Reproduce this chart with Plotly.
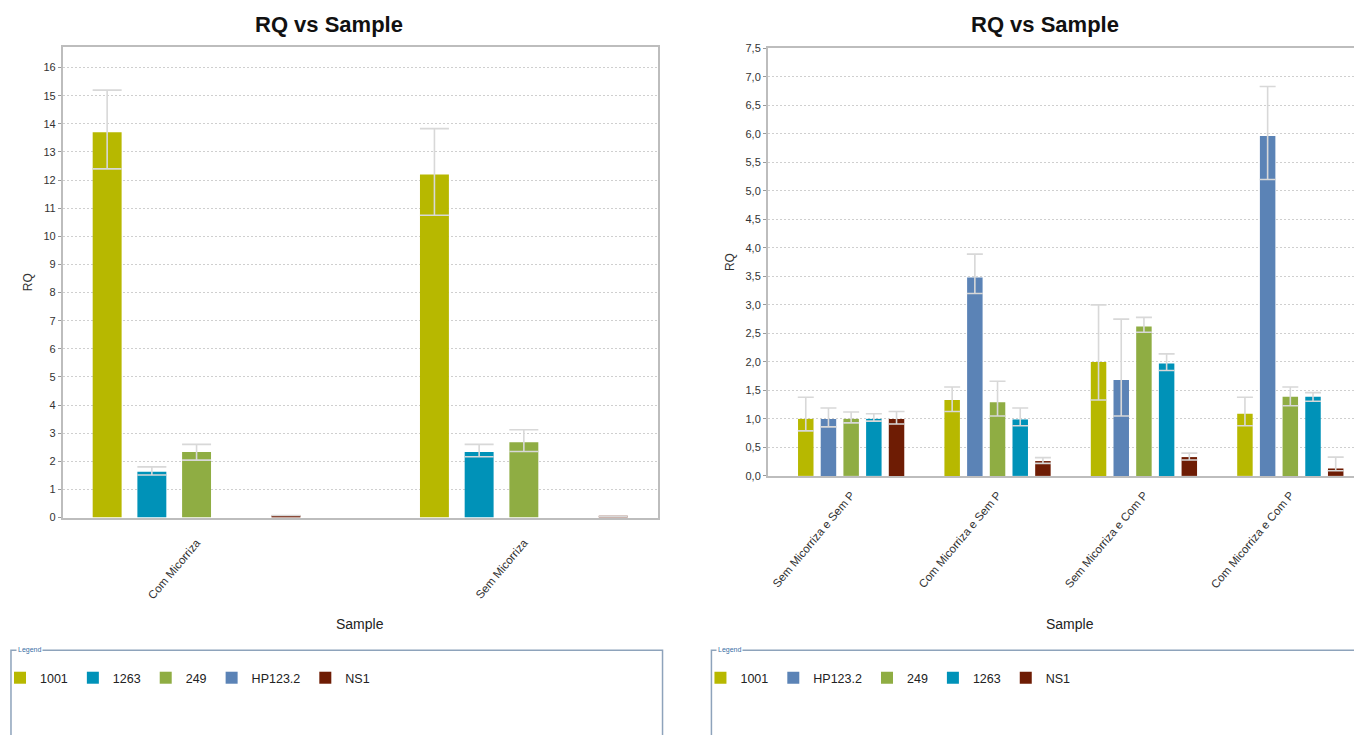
import plotly.graph_objects as go

# ---------------- data: RQ by sample (left chart) ----------------
samples_left = ["Com Micorriza", "Sem Micorriza"]
targets_left = ["1001", "1263", "249", "HP123.2", "NS1"]

rq_left_1001 = [13.70, 12.20]
rq_left_1263 = [1.63, 2.33]
rq_left_249 = [2.33, 2.68]
rq_left_hp1232 = [None, None]
rq_left_ns1 = [0.07, 0.03]

rq_max_left_1001 = [15.20, 13.83]
rq_min_left_1001 = [12.40, 10.75]
rq_max_left_1263 = [1.80, 2.60]
rq_min_left_1263 = [1.51, 2.16]
rq_max_left_249 = [2.60, 3.12]
rq_min_left_249 = [2.04, 2.35]
rq_max_left_hp1232 = [None, None]
rq_min_left_hp1232 = [None, None]
rq_max_left_ns1 = [0.07, 0.03]
rq_min_left_ns1 = [0.07, 0.03]

# ---------------- data: RQ by sample (right chart) ----------------
samples_right = ["Sem Micorriza e Sem P", "Com Micorriza e Sem P",
                 "Sem Micorriza e Com P", "Com Micorriza e Com P"]
targets_right = ["1001", "HP123.2", "249", "1263", "NS1"]

rq_right_1001 = [1.00, 1.33, 2.00, 1.09]
rq_right_hp1232 = [1.00, 3.48, 1.68, 5.96]
rq_right_249 = [1.00, 1.29, 2.62, 1.39]
rq_right_1263 = [1.00, 0.99, 1.97, 1.39]
rq_right_ns1 = [1.00, 0.26, 0.33, 0.13]

rq_max_right_1001 = [1.38, 1.56, 3.00, 1.38]
rq_min_right_1001 = [0.79, 1.13, 1.33, 0.88]
rq_max_right_hp1232 = [1.19, 3.89, 2.75, 6.83]
rq_min_right_hp1232 = [0.86, 3.20, 1.05, 5.20]
rq_max_right_249 = [1.12, 1.66, 2.78, 1.56]
rq_min_right_249 = [0.93, 1.05, 2.52, 1.23]
rq_max_right_1263 = [1.09, 1.19, 2.14, 1.46]
rq_min_right_1263 = [0.96, 0.88, 1.85, 1.31]
rq_max_right_ns1 = [1.13, 0.32, 0.40, 0.33]
rq_min_right_ns1 = [0.91, 0.22, 0.28, 0.09]

target_colors = {
    "1001": "#b7b800",
    "1263": "#0092b8",
    "249": "#8fad43",
    "HP123.2": "#5b83b6",
    "NS1": "#6e1c04",
}

# ---------------- page geometry (pixels) ----------------
W, H = 1354, 735
FONT = "Liberation Sans, Arial, sans-serif"


def px_x(v):
    return v / W


def px_y(v):
    return 1 - v / H


left_series = {
    "1001": (rq_left_1001, rq_max_left_1001, rq_min_left_1001),
    "1263": (rq_left_1263, rq_max_left_1263, rq_min_left_1263),
    "249": (rq_left_249, rq_max_left_249, rq_min_left_249),
    "HP123.2": (rq_left_hp1232, rq_max_left_hp1232, rq_min_left_hp1232),
    "NS1": (rq_left_ns1, rq_max_left_ns1, rq_min_left_ns1),
}
right_series = {
    "1001": (rq_right_1001, rq_max_right_1001, rq_min_right_1001),
    "HP123.2": (rq_right_hp1232, rq_max_right_hp1232, rq_min_right_hp1232),
    "249": (rq_right_249, rq_max_right_249, rq_min_right_249),
    "1263": (rq_right_1263, rq_max_right_1263, rq_min_right_1263),
    "NS1": (rq_right_ns1, rq_max_right_ns1, rq_min_right_ns1),
}


def error_parts(vals, hi, lo):
    plus, minus = [], []
    for v, h, l in zip(vals, hi, lo):
        if v is None or h is None or l is None:
            plus.append(0)
            minus.append(0)
        else:
            plus.append(round(h - v, 4))
            minus.append(round(v - l, 4))
    return plus, minus


fig = go.Figure()

# bar slots inside each category group (category units)
SLOT_L, BAR_L, CAP_L = 0.1366, 0.0884, 14.5
SLOT_R, BAR_R, CAP_R = 0.1550, 0.1057, 8

for i, name in enumerate(targets_left):
    vals, hi, lo = left_series[name]
    plus, minus = error_parts(vals, hi, lo)
    fig.add_trace(go.Bar(
        x=samples_left, y=vals, name=name,
        marker=dict(color=target_colors[name], line=dict(width=0)),
        width=BAR_L, offset=(i - 2) * SLOT_L - BAR_L / 2,
        error_y=dict(type="data", symmetric=False, array=plus, arrayminus=minus,
                     color="#d8d8d8", thickness=1.6, width=CAP_L),
        xaxis="x", yaxis="y", legend="legend",
    ))

for i, name in enumerate(targets_right):
    vals, hi, lo = right_series[name]
    plus, minus = error_parts(vals, hi, lo)
    fig.add_trace(go.Bar(
        x=samples_right, y=vals, name=name,
        marker=dict(color=target_colors[name], line=dict(width=0)),
        width=BAR_R, offset=(i - 2) * SLOT_R - BAR_R / 2,
        error_y=dict(type="data", symmetric=False, array=plus, arrayminus=minus,
                     color="#d8d8d8", thickness=1.6, width=CAP_R),
        xaxis="x2", yaxis="y2", legend="legend2",
    ))

tick_font = dict(family=FONT, size=11, color="#333333")
cat_font = dict(family=FONT, size=11.5, color="#333333")
GRID_DASH = "2px,2px"

axis_common = dict(showline=True, linecolor="#bdbdbd", linewidth=2,
                   zeroline=False, fixedrange=True)

fig.update_layout(
    width=W, height=H, autosize=False,
    margin=dict(l=0, r=0, t=0, b=0),
    paper_bgcolor="white", plot_bgcolor="white",
    barmode="group",
    separators=",.",
    font=dict(family=FONT, color="#222222"),
    xaxis=dict(domain=[px_x(60), px_x(656)], range=[-0.4085, 1.4085],
               type="category", tickangle=-50, tickfont=cat_font,
               ticks="", ticklabelstandoff=12, showgrid=False, mirror=True,
               anchor="y", **axis_common),
    yaxis=dict(domain=[px_y(520), px_y(41.5)], range=[0, 16.74],
               tick0=0, dtick=1, ticks="outside", ticklen=3, tickcolor="#9a9a9a",
               tickfont=tick_font, showgrid=True, gridcolor="#cfcfcf",
               griddash=GRID_DASH, gridwidth=1, mirror=True, anchor="x",
               title=dict(text="RQ", font=dict(family=FONT, size=12, color="#333333"),
                          standoff=8),
               **axis_common),
    xaxis2=dict(domain=[px_x(766.7), 1.0], range=[-0.568, 3.435],
                type="category", tickangle=-50, tickfont=cat_font,
                ticks="", ticklabelstandoff=6, showgrid=False, mirror=True,
                anchor="y2", **axis_common),
    yaxis2=dict(domain=[px_y(477.7), px_y(43)], range=[0, 7.5],
                tick0=0, dtick=0.5, tickformat=".1f", ticks="outside", ticklen=3,
                tickcolor="#9a9a9a", tickfont=tick_font, showgrid=True,
                gridcolor="#cfcfcf", griddash=GRID_DASH, gridwidth=1, anchor="x2",
                title=dict(text="RQ", font=dict(family=FONT, size=12, color="#333333"),
                           standoff=8),
                **axis_common),
    legend=dict(orientation="h", x=px_x(-3), y=px_y(668), xanchor="left",
                yanchor="top", font=dict(family=FONT, size=12.5, color="#222222"),
                bgcolor="rgba(0,0,0,0)", itemclick=False, itemdoubleclick=False),
    legend2=dict(orientation="h", x=px_x(699), y=px_y(668), xanchor="left",
                 yanchor="top", font=dict(family=FONT, size=12.5, color="#222222"),
                 bgcolor="rgba(0,0,0,0)", itemclick=False, itemdoubleclick=False),
)

# chart titles and x-axis titles
for cx in (327, 1044):
    fig.add_annotation(text="<b>RQ vs Sample</b>", x=px_x(cx), y=px_y(19),
                       xref="paper", yref="paper", xanchor="center", yanchor="middle",
                       showarrow=False,
                       font=dict(family=FONT, size=22, color="#111111"))
for cx in (358, 1069):
    fig.add_annotation(text="Sample", x=px_x(cx), y=px_y(628),
                       xref="paper", yref="paper", xanchor="center", yanchor="middle",
                       showarrow=False,
                       font=dict(family=FONT, size=14, color="#222222"))

# legend frames with their small caption
for x0, x1 in ((8, 661), (710, 1362)):
    fig.add_shape(type="rect", xref="paper", yref="paper",
                  x0=px_x(x0), x1=px_x(x1), y0=px_y(745), y1=px_y(655),
                  line=dict(color="#8ea3bb", width=1.5), fillcolor="rgba(0,0,0,0)",
                  layer="below")
    fig.add_annotation(text="Legend", x=px_x(x0 + 5), y=px_y(655),
                       xref="paper", yref="paper", xanchor="left", yanchor="middle",
                       showarrow=False, bgcolor="white", borderpad=1,
                       font=dict(family=FONT, size=7, color="#3a6ea5"))

fig.write_html("out.html")
